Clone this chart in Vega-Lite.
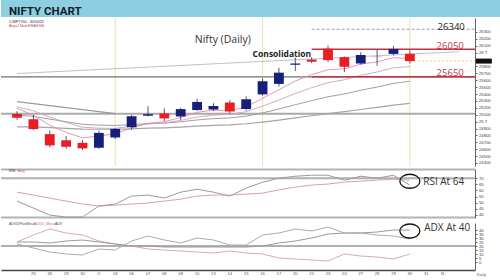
{
  "$schema": "https://vega.github.io/schema/vega-lite/v6.json",
  "padding": 0,
  "background": "white",
  "config": {"view": {"stroke": null}, "axis": {"labelFont": "Liberation Sans", "titleFont": "Liberation Sans", "grid": false, "labelOverlap": false, "labelFontSize": 4.2, "labelColor": "#3a3a3a", "tickColor": "#666", "domainColor": "#666", "tickSize": 2, "labelPadding": 1.5, "labelFlush": false, "labelBound": false}, "text": {"font": "Liberation Sans"}},
  "datasets": {
    "px": [
      {"d": "2025-09-24", "o": 25108.75, "h": 25150.5, "l": 25027.45, "c": 25056.9, "e5": 25192, "e10": 25215, "e20": 25096, "e50": 24925},
      {"d": "2025-09-25", "o": 25034.5, "h": 25092.7, "l": 24878.3, "c": 24890.85, "e5": 25092, "e10": 25156, "e20": 25076, "e50": 24924},
      {"d": "2025-09-26", "o": 24818.55, "h": 24868.6, "l": 24629.45, "c": 24654.7, "e5": 24946, "e10": 25065, "e20": 25036, "e50": 24913},
      {"d": "2025-09-29", "o": 24728.55, "h": 24791.3, "l": 24606.2, "c": 24634.9, "e5": 24842, "e10": 24987, "e20": 24998, "e50": 24902},
      {"d": "2025-09-30", "o": 24691.95, "h": 24731.8, "l": 24587.7, "c": 24611.1, "e5": 24765, "e10": 24919, "e20": 24961, "e50": 24891},
      {"d": "2025-10-01", "o": 24620.55, "h": 24867.95, "l": 24605.95, "c": 24836.3, "e5": 24789, "e10": 24904, "e20": 24949, "e50": 24889},
      {"d": "2025-10-03", "o": 24770, "h": 24904.8, "l": 24747.55, "c": 24894.25, "e5": 24824, "e10": 24902, "e20": 24944, "e50": 24889},
      {"d": "2025-10-06", "o": 24916.55, "h": 25095.95, "l": 24881.65, "c": 25077.65, "e5": 24909, "e10": 24934, "e20": 24957, "e50": 24896},
      {"d": "2025-10-07", "o": 25085.3, "h": 25220.9, "l": 25076.3, "c": 25108.3, "e5": 24975, "e10": 24966, "e20": 24971, "e50": 24904},
      {"d": "2025-10-08", "o": 25118.9, "h": 25192.5, "l": 25008.5, "c": 25046.15, "e5": 24999, "e10": 24981, "e20": 24978, "e50": 24910},
      {"d": "2025-10-09", "o": 25074.3, "h": 25199.25, "l": 25024.3, "c": 25181.8, "e5": 25060, "e10": 25018, "e20": 24997, "e50": 24921},
      {"d": "2025-10-10", "o": 25167.65, "h": 25330.75, "l": 25156.85, "c": 25285.35, "e5": 25135, "e10": 25066, "e20": 25024, "e50": 24935},
      {"d": "2025-10-13", "o": 25177.2, "h": 25267.3, "l": 25152.3, "c": 25227.35, "e5": 25166, "e10": 25095, "e20": 25043, "e50": 24946},
      {"d": "2025-10-14", "o": 25277.55, "h": 25310.35, "l": 25119.2, "c": 25145.5, "e5": 25159, "e10": 25104, "e20": 25053, "e50": 24954},
      {"d": "2025-10-15", "o": 25181.95, "h": 25365.55, "l": 25159.35, "c": 25323.55, "e5": 25214, "e10": 25144, "e20": 25079, "e50": 24969},
      {"d": "2025-10-16", "o": 25394.9, "h": 25625.4, "l": 25376.2, "c": 25585.3, "e5": 25338, "e10": 25224, "e20": 25127, "e50": 24993},
      {"d": "2025-10-17", "o": 25546.85, "h": 25781.5, "l": 25508.6, "c": 25709.85, "e5": 25462, "e10": 25312, "e20": 25182, "e50": 25021},
      {"d": "2025-10-20", "o": 25824.8, "h": 25926.2, "l": 25733.5, "c": 25843.15, "e5": 25589, "e10": 25409, "e20": 25245, "e50": 25053},
      {"d": "2025-10-21", "o": 25900, "h": 25934.35, "l": 25847.25, "c": 25868.6, "e5": 25682, "e10": 25493, "e20": 25304, "e50": 25085},
      {"d": "2025-10-23", "o": 26057.2, "h": 26104.2, "l": 25862.45, "c": 25891.4, "e5": 25752, "e10": 25565, "e20": 25360, "e50": 25117},
      {"d": "2025-10-24", "o": 25935.1, "h": 25944.15, "l": 25718.2, "c": 25795.15, "e5": 25766, "e10": 25607, "e20": 25401, "e50": 25144},
      {"d": "2025-10-27", "o": 25843.2, "h": 26005.95, "l": 25827.2, "c": 25966.05, "e5": 25833, "e10": 25672, "e20": 25455, "e50": 25176},
      {"d": "2025-10-28", "o": 25939.95, "h": 26041.7, "l": 25810.05, "c": 25936.2, "e5": 25867, "e10": 25720, "e20": 25501, "e50": 25206},
      {"d": "2025-10-29", "o": 25982, "h": 26097.85, "l": 25960.3, "c": 26053.9, "e5": 25929, "e10": 25781, "e20": 25554, "e50": 25239},
      {"d": "2025-10-30", "o": 25984.4, "h": 26032, "l": 25845, "c": 25877.85, "e5": 25912, "e10": 25799, "e20": 25585, "e50": 25264}
    ],
    "osc": [
      {"d": "2025-09-24", "rsi": 51.3, "rsia": 58.6, "dip": 22.5, "dim": 25, "adx": 25},
      {"d": "2025-09-25", "rsi": 45.6, "rsia": 56.2, "dip": 17.5, "dim": 33.75, "adx": 25},
      {"d": "2025-09-26", "rsi": 39.9, "rsia": 53.7, "dip": 12.5, "dim": 41.25, "adx": 23.75},
      {"d": "2025-09-29", "rsi": 38.3, "rsia": 51.3, "dip": 10, "dim": 36.25, "adx": 26.25},
      {"d": "2025-09-30", "rsi": 38.3, "rsia": 48.9, "dip": 8.75, "dim": 33.75, "adx": 27.5},
      {"d": "2025-10-01", "rsi": 47.2, "rsia": 47.2, "dip": 16.25, "dim": 26.25, "adx": 25},
      {"d": "2025-10-03", "rsi": 48.9, "rsia": 48.0, "dip": 15, "dim": 22.5, "adx": 22.5},
      {"d": "2025-10-06", "rsi": 55.4, "rsia": 48.9, "dip": 26.25, "dim": 20, "adx": 20},
      {"d": "2025-10-07", "rsi": 56.2, "rsia": 49.7, "dip": 32.5, "dim": 16.25, "adx": 20},
      {"d": "2025-10-08", "rsi": 53.8, "rsia": 51.3, "dip": 27.5, "dim": 15, "adx": 18.75},
      {"d": "2025-10-09", "rsi": 58.6, "rsia": 52.9, "dip": 23.75, "dim": 13.75, "adx": 18.75},
      {"d": "2025-10-10", "rsi": 61.0, "rsia": 55.4, "dip": 30, "dim": 12.5, "adx": 18.75},
      {"d": "2025-10-13", "rsi": 58.6, "rsia": 56.2, "dip": 27.5, "dim": 11.25, "adx": 18.75},
      {"d": "2025-10-14", "rsi": 55.4, "rsia": 56.2, "dip": 21.25, "dim": 13.75, "adx": 18.75},
      {"d": "2025-10-15", "rsi": 61.9, "rsia": 57.0, "dip": 21.25, "dim": 11.25, "adx": 18.75},
      {"d": "2025-10-16", "rsi": 66.7, "rsia": 57.8, "dip": 33.75, "dim": 10, "adx": 20},
      {"d": "2025-10-17", "rsi": 70, "rsia": 60.5, "dip": 36.25, "dim": 5, "adx": 23.75},
      {"d": "2025-10-20", "rsi": 71.6, "rsia": 62.7, "dip": 41.25, "dim": 3.75, "adx": 26.25},
      {"d": "2025-10-21", "rsi": 72.4, "rsia": 64.4, "dip": 38.75, "dim": 2.5, "adx": 30},
      {"d": "2025-10-23", "rsi": 72.4, "rsia": 65.2, "dip": 43.75, "dim": 1.25, "adx": 35},
      {"d": "2025-10-24", "rsi": 68.4, "rsia": 66.8, "dip": 36.25, "dim": 10, "adx": 36.25},
      {"d": "2025-10-27", "rsi": 71.6, "rsia": 67.6, "dip": 36.25, "dim": 7.5, "adx": 36.25},
      {"d": "2025-10-28", "rsi": 70, "rsia": 68.4, "dip": 33.75, "dim": 6.25, "adx": 37.5},
      {"d": "2025-10-29", "rsi": 72.4, "rsia": 69.2, "dip": 32.5, "dim": 3.75, "adx": 40},
      {"d": "2025-10-30", "rsi": 64.3, "rsia": 68.4, "dip": 28.75, "dim": 10, "adx": 40}
    ]
  },
  "spacing": 0,
  "vconcat": [
    {
      "width": 500,
      "height": 17,
      "view": {"fill": "#8dcfe0", "stroke": null},
      "data": {"values": [{"d": "2025-09-24", "t": "NIFTY CHART"}]},
      "mark": {"type": "text", "font": "Roboto", "fontSize": 11.5, "fontWeight": "bold", "color": "#15202b", "align": "left", "baseline": "middle", "dx": -9, "dy": 3},
      "encoding": {
        "x": {"field": "d", "type": "ordinal", "scale": {"type": "band", "domain": ["2025-09-24","2025-09-25","2025-09-26","2025-09-29","2025-09-30","2025-10-01","2025-10-03","2025-10-06","2025-10-07","2025-10-08","2025-10-09","2025-10-10","2025-10-13","2025-10-14","2025-10-15","2025-10-16","2025-10-17","2025-10-20","2025-10-21","2025-10-23","2025-10-24","2025-10-27","2025-10-28","2025-10-29","2025-10-30","2025-10-31","2025-11-03","2025-11-04"], "paddingInner": 0.4, "paddingOuter": 0.68}, "axis": null},
        "text": {"field": "t"}
      }
    },
    {
      "spacing": 1,
      "vconcat": [
        {
          "width": 474,
          "height": 148,
          "layer": [
            {"data": {"values": [{"d": "2025-10-03"}, {"d": "2025-10-16"}, {"d": "2025-10-30"}]}, "mark": {"type": "rule", "color": "#ece6a0", "strokeWidth": 1}, "encoding": {"x": {"field": "d", "type": "ordinal", "scale": {"type": "band", "domain": ["2025-09-24","2025-09-25","2025-09-26","2025-09-29","2025-09-30","2025-10-01","2025-10-03","2025-10-06","2025-10-07","2025-10-08","2025-10-09","2025-10-10","2025-10-13","2025-10-14","2025-10-15","2025-10-16","2025-10-17","2025-10-20","2025-10-21","2025-10-23","2025-10-24","2025-10-27","2025-10-28","2025-10-29","2025-10-30","2025-10-31","2025-11-03","2025-11-04"], "paddingInner": 0.4, "paddingOuter": 0.68}, "axis": null}}},
            {"data": {"values": [{"v": 25114.7}]}, "mark": {"type": "rule", "color": "#aaaaaa", "strokeWidth": 2}, "encoding": {"y": {"field": "v", "type": "quantitative", "scale": {"domain": [24356, 26503], "nice": false, "zero": false}, "axis": {"orient": "right", "values": [24400, 24500, 24600, 24700, 24800, 24900, 25000, 25100, 25200, 25300, 25400, 25500, 25600, 25700, 25800, 26000, 26100, 26200, 26300], "format": "d", "labelExpr": "datum.value == 26000 ? '26 T' : datum.value == 25000 ? '25 T' : datum.label", "title": null, "labelOverlap": false}}}},
            {"data": {"values": [{"v": 25650}]}, "mark": {"type": "rule", "color": "#707070", "strokeWidth": 1.2}, "encoding": {"y": {"field": "v", "type": "quantitative", "scale": {"domain": [24356, 26503], "nice": false, "zero": false}, "axis": {"orient": "right", "values": [24400, 24500, 24600, 24700, 24800, 24900, 25000, 25100, 25200, 25300, 25400, 25500, 25600, 25700, 25800, 26000, 26100, 26200, 26300], "format": "d", "labelExpr": "datum.value == 26000 ? '26 T' : datum.value == 25000 ? '25 T' : datum.label", "title": null, "labelOverlap": false}}}},
            {"data": {"values": [{"d": "2025-09-24", "v": 25697}, {"d": "2025-11-04", "v": 26014}]}, "mark": {"type": "line", "color": "#b9abc2", "strokeWidth": 0.8}, "encoding": {"x": {"field": "d", "type": "ordinal", "scale": {"type": "band", "domain": ["2025-09-24","2025-09-25","2025-09-26","2025-09-29","2025-09-30","2025-10-01","2025-10-03","2025-10-06","2025-10-07","2025-10-08","2025-10-09","2025-10-10","2025-10-13","2025-10-14","2025-10-15","2025-10-16","2025-10-17","2025-10-20","2025-10-21","2025-10-23","2025-10-24","2025-10-27","2025-10-28","2025-10-29","2025-10-30","2025-10-31","2025-11-03","2025-11-04"], "paddingInner": 0.4, "paddingOuter": 0.68}, "axis": null}, "y": {"field": "v", "type": "quantitative", "scale": {"domain": [24356, 26503], "nice": false, "zero": false}, "axis": {"orient": "right", "values": [24400, 24500, 24600, 24700, 24800, 24900, 25000, 25100, 25200, 25300, 25400, 25500, 25600, 25700, 25800, 26000, 26100, 26200, 26300], "format": "d", "labelExpr": "datum.value == 26000 ? '26 T' : datum.value == 25000 ? '25 T' : datum.label", "title": null, "labelOverlap": false}}}},
            {"data": {"values": [{"d": "2025-09-24", "v": 25290}, {"d": "2025-10-03", "v": 25115}]}, "mark": {"type": "line", "color": "#9a9a9a", "strokeWidth": 1.2}, "encoding": {"x": {"field": "d", "type": "ordinal", "scale": {"type": "band", "domain": ["2025-09-24","2025-09-25","2025-09-26","2025-09-29","2025-09-30","2025-10-01","2025-10-03","2025-10-06","2025-10-07","2025-10-08","2025-10-09","2025-10-10","2025-10-13","2025-10-14","2025-10-15","2025-10-16","2025-10-17","2025-10-20","2025-10-21","2025-10-23","2025-10-24","2025-10-27","2025-10-28","2025-10-29","2025-10-30","2025-10-31","2025-11-03","2025-11-04"], "paddingInner": 0.4, "paddingOuter": 0.68}, "axis": null}, "y": {"field": "v", "type": "quantitative", "scale": {"domain": [24356, 26503], "nice": false, "zero": false}, "axis": {"orient": "right", "values": [24400, 24500, 24600, 24700, 24800, 24900, 25000, 25100, 25200, 25300, 25400, 25500, 25600, 25700, 25800, 26000, 26100, 26200, 26300], "format": "d", "labelExpr": "datum.value == 26000 ? '26 T' : datum.value == 25000 ? '25 T' : datum.label", "title": null, "labelOverlap": false}}}},
            {"data": {"name": "px"}, "mark": {"type": "line", "color": "#a5a5a5", "strokeWidth": 1.2}, "encoding": {"x": {"field": "d", "type": "ordinal", "scale": {"type": "band", "domain": ["2025-09-24","2025-09-25","2025-09-26","2025-09-29","2025-09-30","2025-10-01","2025-10-03","2025-10-06","2025-10-07","2025-10-08","2025-10-09","2025-10-10","2025-10-13","2025-10-14","2025-10-15","2025-10-16","2025-10-17","2025-10-20","2025-10-21","2025-10-23","2025-10-24","2025-10-27","2025-10-28","2025-10-29","2025-10-30","2025-10-31","2025-11-03","2025-11-04"], "paddingInner": 0.4, "paddingOuter": 0.68}, "axis": null}, "y": {"field": "e50", "type": "quantitative", "scale": {"domain": [24356, 26503], "nice": false, "zero": false}, "axis": {"orient": "right", "values": [24400, 24500, 24600, 24700, 24800, 24900, 25000, 25100, 25200, 25300, 25400, 25500, 25600, 25700, 25800, 26000, 26100, 26200, 26300], "format": "d", "labelExpr": "datum.value == 26000 ? '26 T' : datum.value == 25000 ? '25 T' : datum.label", "title": null, "labelOverlap": false}}}},
            {"data": {"name": "px"}, "mark": {"type": "line", "color": "#a0a0a0", "strokeWidth": 1}, "encoding": {"x": {"field": "d", "type": "ordinal", "scale": {"type": "band", "domain": ["2025-09-24","2025-09-25","2025-09-26","2025-09-29","2025-09-30","2025-10-01","2025-10-03","2025-10-06","2025-10-07","2025-10-08","2025-10-09","2025-10-10","2025-10-13","2025-10-14","2025-10-15","2025-10-16","2025-10-17","2025-10-20","2025-10-21","2025-10-23","2025-10-24","2025-10-27","2025-10-28","2025-10-29","2025-10-30","2025-10-31","2025-11-03","2025-11-04"], "paddingInner": 0.4, "paddingOuter": 0.68}, "axis": null}, "y": {"field": "e20", "type": "quantitative", "scale": {"domain": [24356, 26503], "nice": false, "zero": false}, "axis": {"orient": "right", "values": [24400, 24500, 24600, 24700, 24800, 24900, 25000, 25100, 25200, 25300, 25400, 25500, 25600, 25700, 25800, 26000, 26100, 26200, 26300], "format": "d", "labelExpr": "datum.value == 26000 ? '26 T' : datum.value == 25000 ? '25 T' : datum.label", "title": null, "labelOverlap": false}}}},
            {"data": {"name": "px"}, "mark": {"type": "line", "color": "#c9a0c8", "strokeWidth": 0.9}, "encoding": {"x": {"field": "d", "type": "ordinal", "scale": {"type": "band", "domain": ["2025-09-24","2025-09-25","2025-09-26","2025-09-29","2025-09-30","2025-10-01","2025-10-03","2025-10-06","2025-10-07","2025-10-08","2025-10-09","2025-10-10","2025-10-13","2025-10-14","2025-10-15","2025-10-16","2025-10-17","2025-10-20","2025-10-21","2025-10-23","2025-10-24","2025-10-27","2025-10-28","2025-10-29","2025-10-30","2025-10-31","2025-11-03","2025-11-04"], "paddingInner": 0.4, "paddingOuter": 0.68}, "axis": null}, "y": {"field": "e10", "type": "quantitative", "scale": {"domain": [24356, 26503], "nice": false, "zero": false}, "axis": {"orient": "right", "values": [24400, 24500, 24600, 24700, 24800, 24900, 25000, 25100, 25200, 25300, 25400, 25500, 25600, 25700, 25800, 26000, 26100, 26200, 26300], "format": "d", "labelExpr": "datum.value == 26000 ? '26 T' : datum.value == 25000 ? '25 T' : datum.label", "title": null, "labelOverlap": false}}}},
            {"data": {"name": "px"}, "mark": {"type": "line", "color": "#e68aa8", "strokeWidth": 0.9}, "encoding": {"x": {"field": "d", "type": "ordinal", "scale": {"type": "band", "domain": ["2025-09-24","2025-09-25","2025-09-26","2025-09-29","2025-09-30","2025-10-01","2025-10-03","2025-10-06","2025-10-07","2025-10-08","2025-10-09","2025-10-10","2025-10-13","2025-10-14","2025-10-15","2025-10-16","2025-10-17","2025-10-20","2025-10-21","2025-10-23","2025-10-24","2025-10-27","2025-10-28","2025-10-29","2025-10-30","2025-10-31","2025-11-03","2025-11-04"], "paddingInner": 0.4, "paddingOuter": 0.68}, "axis": null}, "y": {"field": "e5", "type": "quantitative", "scale": {"domain": [24356, 26503], "nice": false, "zero": false}, "axis": {"orient": "right", "values": [24400, 24500, 24600, 24700, 24800, 24900, 25000, 25100, 25200, 25300, 25400, 25500, 25600, 25700, 25800, 26000, 26100, 26200, 26300], "format": "d", "labelExpr": "datum.value == 26000 ? '26 T' : datum.value == 25000 ? '25 T' : datum.label", "title": null, "labelOverlap": false}}}},
            {"data": {"values": [{"d": "2025-10-21", "v": 26050}, {"d": "2025-10-21", "v": 25650}]}, "mark": {"type": "rule", "color": "#c4323f", "strokeWidth": 1.6}, "encoding": {"x": {"field": "d", "type": "ordinal", "scale": {"type": "band", "domain": ["2025-09-24","2025-09-25","2025-09-26","2025-09-29","2025-09-30","2025-10-01","2025-10-03","2025-10-06","2025-10-07","2025-10-08","2025-10-09","2025-10-10","2025-10-13","2025-10-14","2025-10-15","2025-10-16","2025-10-17","2025-10-20","2025-10-21","2025-10-23","2025-10-24","2025-10-27","2025-10-28","2025-10-29","2025-10-30","2025-10-31","2025-11-03","2025-11-04"], "paddingInner": 0.4, "paddingOuter": 0.68}, "axis": null}, "x2": {"value": "width"}, "y": {"field": "v", "type": "quantitative", "scale": {"domain": [24356, 26503], "nice": false, "zero": false}, "axis": {"orient": "right", "values": [24400, 24500, 24600, 24700, 24800, 24900, 25000, 25100, 25200, 25300, 25400, 25500, 25600, 25700, 25800, 26000, 26100, 26200, 26300], "format": "d", "labelExpr": "datum.value == 26000 ? '26 T' : datum.value == 25000 ? '25 T' : datum.label", "title": null, "labelOverlap": false}}}},
            {"data": {"values": [{"d": "2025-10-21", "v": 26340}]}, "mark": {"type": "rule", "color": "#9d9d9d", "strokeWidth": 1, "strokeDash": [3, 2]}, "encoding": {"x": {"field": "d", "type": "ordinal", "scale": {"type": "band", "domain": ["2025-09-24","2025-09-25","2025-09-26","2025-09-29","2025-09-30","2025-10-01","2025-10-03","2025-10-06","2025-10-07","2025-10-08","2025-10-09","2025-10-10","2025-10-13","2025-10-14","2025-10-15","2025-10-16","2025-10-17","2025-10-20","2025-10-21","2025-10-23","2025-10-24","2025-10-27","2025-10-28","2025-10-29","2025-10-30","2025-10-31","2025-11-03","2025-11-04"], "paddingInner": 0.4, "paddingOuter": 0.68}, "axis": null}, "x2": {"value": "width"}, "y": {"field": "v", "type": "quantitative", "scale": {"domain": [24356, 26503], "nice": false, "zero": false}, "axis": {"orient": "right", "values": [24400, 24500, 24600, 24700, 24800, 24900, 25000, 25100, 25200, 25300, 25400, 25500, 25600, 25700, 25800, 26000, 26100, 26200, 26300], "format": "d", "labelExpr": "datum.value == 26000 ? '26 T' : datum.value == 25000 ? '25 T' : datum.label", "title": null, "labelOverlap": false}}}},
            {"data": {"values": [{"d": "2025-10-30", "v": 25877.85}]}, "mark": {"type": "rule", "color": "#e6d46e", "strokeWidth": 1, "strokeDash": [2, 2]}, "encoding": {"x": {"field": "d", "type": "ordinal", "scale": {"type": "band", "domain": ["2025-09-24","2025-09-25","2025-09-26","2025-09-29","2025-09-30","2025-10-01","2025-10-03","2025-10-06","2025-10-07","2025-10-08","2025-10-09","2025-10-10","2025-10-13","2025-10-14","2025-10-15","2025-10-16","2025-10-17","2025-10-20","2025-10-21","2025-10-23","2025-10-24","2025-10-27","2025-10-28","2025-10-29","2025-10-30","2025-10-31","2025-11-03","2025-11-04"], "paddingInner": 0.4, "paddingOuter": 0.68}, "axis": null}, "x2": {"value": "width"}, "y": {"field": "v", "type": "quantitative", "scale": {"domain": [24356, 26503], "nice": false, "zero": false}, "axis": {"orient": "right", "values": [24400, 24500, 24600, 24700, 24800, 24900, 25000, 25100, 25200, 25300, 25400, 25500, 25600, 25700, 25800, 26000, 26100, 26200, 26300], "format": "d", "labelExpr": "datum.value == 26000 ? '26 T' : datum.value == 25000 ? '25 T' : datum.label", "title": null, "labelOverlap": false}}}},
            {"data": {"name": "px"}, "mark": {"type": "rule", "color": "#2a2a50", "strokeWidth": 0.8}, "encoding": {"x": {"field": "d", "type": "ordinal", "scale": {"type": "band", "domain": ["2025-09-24","2025-09-25","2025-09-26","2025-09-29","2025-09-30","2025-10-01","2025-10-03","2025-10-06","2025-10-07","2025-10-08","2025-10-09","2025-10-10","2025-10-13","2025-10-14","2025-10-15","2025-10-16","2025-10-17","2025-10-20","2025-10-21","2025-10-23","2025-10-24","2025-10-27","2025-10-28","2025-10-29","2025-10-30","2025-10-31","2025-11-03","2025-11-04"], "paddingInner": 0.4, "paddingOuter": 0.68}, "axis": null}, "y": {"field": "l", "type": "quantitative", "scale": {"domain": [24356, 26503], "nice": false, "zero": false}, "axis": {"orient": "right", "values": [24400, 24500, 24600, 24700, 24800, 24900, 25000, 25100, 25200, 25300, 25400, 25500, 25600, 25700, 25800, 26000, 26100, 26200, 26300], "format": "d", "labelExpr": "datum.value == 26000 ? '26 T' : datum.value == 25000 ? '25 T' : datum.label", "title": null, "labelOverlap": false}}, "y2": {"field": "h"}}},
            {"data": {"name": "px"}, "mark": {"type": "bar"}, "encoding": {"x": {"field": "d", "type": "ordinal", "scale": {"type": "band", "domain": ["2025-09-24","2025-09-25","2025-09-26","2025-09-29","2025-09-30","2025-10-01","2025-10-03","2025-10-06","2025-10-07","2025-10-08","2025-10-09","2025-10-10","2025-10-13","2025-10-14","2025-10-15","2025-10-16","2025-10-17","2025-10-20","2025-10-21","2025-10-23","2025-10-24","2025-10-27","2025-10-28","2025-10-29","2025-10-30","2025-10-31","2025-11-03","2025-11-04"], "paddingInner": 0.4, "paddingOuter": 0.68}, "axis": null}, "y": {"field": "o", "type": "quantitative", "scale": {"domain": [24356, 26503], "nice": false, "zero": false}, "axis": {"orient": "right", "values": [24400, 24500, 24600, 24700, 24800, 24900, 25000, 25100, 25200, 25300, 25400, 25500, 25600, 25700, 25800, 26000, 26100, 26200, 26300], "format": "d", "labelExpr": "datum.value == 26000 ? '26 T' : datum.value == 25000 ? '25 T' : datum.label", "title": null, "labelOverlap": false}}, "y2": {"field": "c"}, "color": {"condition": {"test": "datum.c >= datum.o", "value": "#16207a"}, "value": "#ea1c24"}}},
            {"data": {"values": [{"d": "2025-10-30", "v": 25877.85}]}, "mark": {"type": "point", "shape": "M 6.6 -0.25 H 8.2 V 0.25 H 6.6 Z", "size": 400, "filled": true, "color": "#111111", "opacity": 1, "strokeWidth": 0}, "encoding": {"x": {"field": "d", "type": "ordinal", "scale": {"type": "band", "domain": ["2025-09-24","2025-09-25","2025-09-26","2025-09-29","2025-09-30","2025-10-01","2025-10-03","2025-10-06","2025-10-07","2025-10-08","2025-10-09","2025-10-10","2025-10-13","2025-10-14","2025-10-15","2025-10-16","2025-10-17","2025-10-20","2025-10-21","2025-10-23","2025-10-24","2025-10-27","2025-10-28","2025-10-29","2025-10-30","2025-10-31","2025-11-03","2025-11-04"], "paddingInner": 0.4, "paddingOuter": 0.68}, "axis": null}, "y": {"field": "v", "type": "quantitative", "scale": {"domain": [24356, 26503], "nice": false, "zero": false}, "axis": {"orient": "right", "values": [24400, 24500, 24600, 24700, 24800, 24900, 25000, 25100, 25200, 25300, 25400, 25500, 25600, 25700, 25800, 26000, 26100, 26200, 26300], "format": "d", "labelExpr": "datum.value == 26000 ? '26 T' : datum.value == 25000 ? '25 T' : datum.label", "title": null, "labelOverlap": false}}}},
            {"data": {"values": [{"d": "2025-10-14", "v": 26184, "t": "Nifty (Daily)"}]}, "mark": {"type": "text", "font": "Open Sans", "fontSize": 10.5, "color": "#333333", "dx": -7, "baseline": "middle"}, "encoding": {"x": {"field": "d", "type": "ordinal", "scale": {"type": "band", "domain": ["2025-09-24","2025-09-25","2025-09-26","2025-09-29","2025-09-30","2025-10-01","2025-10-03","2025-10-06","2025-10-07","2025-10-08","2025-10-09","2025-10-10","2025-10-13","2025-10-14","2025-10-15","2025-10-16","2025-10-17","2025-10-20","2025-10-21","2025-10-23","2025-10-24","2025-10-27","2025-10-28","2025-10-29","2025-10-30","2025-10-31","2025-11-03","2025-11-04"], "paddingInner": 0.4, "paddingOuter": 0.68}, "axis": null}, "y": {"field": "v", "type": "quantitative", "scale": {"domain": [24356, 26503], "nice": false, "zero": false}, "axis": {"orient": "right", "values": [24400, 24500, 24600, 24700, 24800, 24900, 25000, 25100, 25200, 25300, 25400, 25500, 25600, 25700, 25800, 26000, 26100, 26200, 26300], "format": "d", "labelExpr": "datum.value == 26000 ? '26 T' : datum.value == 25000 ? '25 T' : datum.label", "title": null, "labelOverlap": false}}, "text": {"field": "t"}}},
            {"data": {"values": [{"d": "2025-10-17", "v": 25981, "t": "Consolidation"}]}, "mark": {"type": "text", "font": "Open Sans", "fontSize": 8.5, "fontWeight": "bold", "color": "#222222", "dx": 3, "baseline": "middle"}, "encoding": {"x": {"field": "d", "type": "ordinal", "scale": {"type": "band", "domain": ["2025-09-24","2025-09-25","2025-09-26","2025-09-29","2025-09-30","2025-10-01","2025-10-03","2025-10-06","2025-10-07","2025-10-08","2025-10-09","2025-10-10","2025-10-13","2025-10-14","2025-10-15","2025-10-16","2025-10-17","2025-10-20","2025-10-21","2025-10-23","2025-10-24","2025-10-27","2025-10-28","2025-10-29","2025-10-30","2025-10-31","2025-11-03","2025-11-04"], "paddingInner": 0.4, "paddingOuter": 0.68}, "axis": null}, "y": {"field": "v", "type": "quantitative", "scale": {"domain": [24356, 26503], "nice": false, "zero": false}, "axis": {"orient": "right", "values": [24400, 24500, 24600, 24700, 24800, 24900, 25000, 25100, 25200, 25300, 25400, 25500, 25600, 25700, 25800, 26000, 26100, 26200, 26300], "format": "d", "labelExpr": "datum.value == 26000 ? '26 T' : datum.value == 25000 ? '25 T' : datum.label", "title": null, "labelOverlap": false}}, "text": {"field": "t"}}},
            {"data": {"values": [{"d": "2025-11-03", "v": 26372, "t": "26340"}]}, "mark": {"type": "text", "font": "Open Sans", "fontSize": 9.5, "color": "#222222", "dx": -5, "align": "left", "baseline": "middle"}, "encoding": {"x": {"field": "d", "type": "ordinal", "scale": {"type": "band", "domain": ["2025-09-24","2025-09-25","2025-09-26","2025-09-29","2025-09-30","2025-10-01","2025-10-03","2025-10-06","2025-10-07","2025-10-08","2025-10-09","2025-10-10","2025-10-13","2025-10-14","2025-10-15","2025-10-16","2025-10-17","2025-10-20","2025-10-21","2025-10-23","2025-10-24","2025-10-27","2025-10-28","2025-10-29","2025-10-30","2025-10-31","2025-11-03","2025-11-04"], "paddingInner": 0.4, "paddingOuter": 0.68}, "axis": null}, "y": {"field": "v", "type": "quantitative", "scale": {"domain": [24356, 26503], "nice": false, "zero": false}, "axis": {"orient": "right", "values": [24400, 24500, 24600, 24700, 24800, 24900, 25000, 25100, 25200, 25300, 25400, 25500, 25600, 25700, 25800, 26000, 26100, 26200, 26300], "format": "d", "labelExpr": "datum.value == 26000 ? '26 T' : datum.value == 25000 ? '25 T' : datum.label", "title": null, "labelOverlap": false}}, "text": {"field": "t"}}},
            {"data": {"values": [{"d": "2025-11-03", "v": 26097, "t": "26050"}, {"d": "2025-11-03", "v": 25705, "t": "25650"}]}, "mark": {"type": "text", "font": "Open Sans", "fontSize": 9.5, "color": "#c4323f", "dx": -6, "align": "left", "baseline": "middle"}, "encoding": {"x": {"field": "d", "type": "ordinal", "scale": {"type": "band", "domain": ["2025-09-24","2025-09-25","2025-09-26","2025-09-29","2025-09-30","2025-10-01","2025-10-03","2025-10-06","2025-10-07","2025-10-08","2025-10-09","2025-10-10","2025-10-13","2025-10-14","2025-10-15","2025-10-16","2025-10-17","2025-10-20","2025-10-21","2025-10-23","2025-10-24","2025-10-27","2025-10-28","2025-10-29","2025-10-30","2025-10-31","2025-11-03","2025-11-04"], "paddingInner": 0.4, "paddingOuter": 0.68}, "axis": null}, "y": {"field": "v", "type": "quantitative", "scale": {"domain": [24356, 26503], "nice": false, "zero": false}, "axis": {"orient": "right", "values": [24400, 24500, 24600, 24700, 24800, 24900, 25000, 25100, 25200, 25300, 25400, 25500, 25600, 25700, 25800, 26000, 26100, 26200, 26300], "format": "d", "labelExpr": "datum.value == 26000 ? '26 T' : datum.value == 25000 ? '25 T' : datum.label", "title": null, "labelOverlap": false}}, "text": {"field": "t"}}},
            {"data": {"values": [{"d": "2025-09-24", "v": 26452, "t": "1-NIFTY50 - 30/10/25"}]}, "mark": {"type": "text", "fontSize": 3.6, "color": "#222222", "dx": -8, "align": "left", "baseline": "middle"}, "encoding": {"x": {"field": "d", "type": "ordinal", "scale": {"type": "band", "domain": ["2025-09-24","2025-09-25","2025-09-26","2025-09-29","2025-09-30","2025-10-01","2025-10-03","2025-10-06","2025-10-07","2025-10-08","2025-10-09","2025-10-10","2025-10-13","2025-10-14","2025-10-15","2025-10-16","2025-10-17","2025-10-20","2025-10-21","2025-10-23","2025-10-24","2025-10-27","2025-10-28","2025-10-29","2025-10-30","2025-10-31","2025-11-03","2025-11-04"], "paddingInner": 0.4, "paddingOuter": 0.68}, "axis": null}, "y": {"field": "v", "type": "quantitative", "scale": {"domain": [24356, 26503], "nice": false, "zero": false}, "axis": {"orient": "right", "values": [24400, 24500, 24600, 24700, 24800, 24900, 25000, 25100, 25200, 25300, 25400, 25500, 25600, 25700, 25800, 26000, 26100, 26200, 26300], "format": "d", "labelExpr": "datum.value == 26000 ? '26 T' : datum.value == 25000 ? '25 T' : datum.label", "title": null, "labelOverlap": false}}, "text": {"field": "t"}}},
            {"data": {"values": [{"d": "2025-09-24", "v": 26380, "t": "Avgs2 Mod,"}]}, "mark": {"type": "text", "fontSize": 3.6, "color": "#c8405a", "dx": -8, "align": "left", "baseline": "middle"}, "encoding": {"x": {"field": "d", "type": "ordinal", "scale": {"type": "band", "domain": ["2025-09-24","2025-09-25","2025-09-26","2025-09-29","2025-09-30","2025-10-01","2025-10-03","2025-10-06","2025-10-07","2025-10-08","2025-10-09","2025-10-10","2025-10-13","2025-10-14","2025-10-15","2025-10-16","2025-10-17","2025-10-20","2025-10-21","2025-10-23","2025-10-24","2025-10-27","2025-10-28","2025-10-29","2025-10-30","2025-10-31","2025-11-03","2025-11-04"], "paddingInner": 0.4, "paddingOuter": 0.68}, "axis": null}, "y": {"field": "v", "type": "quantitative", "scale": {"domain": [24356, 26503], "nice": false, "zero": false}, "axis": {"orient": "right", "values": [24400, 24500, 24600, 24700, 24800, 24900, 25000, 25100, 25200, 25300, 25400, 25500, 25600, 25700, 25800, 26000, 26100, 26200, 26300], "format": "d", "labelExpr": "datum.value == 26000 ? '26 T' : datum.value == 25000 ? '25 T' : datum.label", "title": null, "labelOverlap": false}}, "text": {"field": "t"}}},
            {"data": {"values": [{"d": "2025-09-24", "v": 26380, "t": "EMA"}]}, "mark": {"type": "text", "fontSize": 3.6, "color": "#8e4fa0", "dx": 11, "align": "left", "baseline": "middle"}, "encoding": {"x": {"field": "d", "type": "ordinal", "scale": {"type": "band", "domain": ["2025-09-24","2025-09-25","2025-09-26","2025-09-29","2025-09-30","2025-10-01","2025-10-03","2025-10-06","2025-10-07","2025-10-08","2025-10-09","2025-10-10","2025-10-13","2025-10-14","2025-10-15","2025-10-16","2025-10-17","2025-10-20","2025-10-21","2025-10-23","2025-10-24","2025-10-27","2025-10-28","2025-10-29","2025-10-30","2025-10-31","2025-11-03","2025-11-04"], "paddingInner": 0.4, "paddingOuter": 0.68}, "axis": null}, "y": {"field": "v", "type": "quantitative", "scale": {"domain": [24356, 26503], "nice": false, "zero": false}, "axis": {"orient": "right", "values": [24400, 24500, 24600, 24700, 24800, 24900, 25000, 25100, 25200, 25300, 25400, 25500, 25600, 25700, 25800, 26000, 26100, 26200, 26300], "format": "d", "labelExpr": "datum.value == 26000 ? '26 T' : datum.value == 25000 ? '25 T' : datum.label", "title": null, "labelOverlap": false}}, "text": {"field": "t"}}},
            {"data": {"values": [{"d": "2025-09-24", "v": 26380, "t": "EMA"}]}, "mark": {"type": "text", "fontSize": 3.6, "color": "#d0508a", "dx": 19, "align": "left", "baseline": "middle"}, "encoding": {"x": {"field": "d", "type": "ordinal", "scale": {"type": "band", "domain": ["2025-09-24","2025-09-25","2025-09-26","2025-09-29","2025-09-30","2025-10-01","2025-10-03","2025-10-06","2025-10-07","2025-10-08","2025-10-09","2025-10-10","2025-10-13","2025-10-14","2025-10-15","2025-10-16","2025-10-17","2025-10-20","2025-10-21","2025-10-23","2025-10-24","2025-10-27","2025-10-28","2025-10-29","2025-10-30","2025-10-31","2025-11-03","2025-11-04"], "paddingInner": 0.4, "paddingOuter": 0.68}, "axis": null}, "y": {"field": "v", "type": "quantitative", "scale": {"domain": [24356, 26503], "nice": false, "zero": false}, "axis": {"orient": "right", "values": [24400, 24500, 24600, 24700, 24800, 24900, 25000, 25100, 25200, 25300, 25400, 25500, 25600, 25700, 25800, 26000, 26100, 26200, 26300], "format": "d", "labelExpr": "datum.value == 26000 ? '26 T' : datum.value == 25000 ? '25 T' : datum.label", "title": null, "labelOverlap": false}}, "text": {"field": "t"}}}
          ]
        },
        {
          "width": 474,
          "height": 49,
          "layer": [
            {"data": {"values": [{"v": 77.0}, {"v": 38.0}]}, "mark": {"type": "rule", "color": "#b3b3b3", "strokeWidth": 2}, "encoding": {"y": {"field": "v", "type": "quantitative", "scale": {"domain": [37.5, 77.5], "nice": false, "zero": false}, "axis": {"orient": "right", "values": [40, 45, 50, 55, 60, 65, 70], "title": null, "labelOverlap": false}}}},
            {"data": {"values": [{"v": 70}]}, "mark": {"type": "rule", "color": "#b0b0b0", "strokeWidth": 2}, "encoding": {"y": {"field": "v", "type": "quantitative", "scale": {"domain": [37.5, 77.5], "nice": false, "zero": false}, "axis": {"orient": "right", "values": [40, 45, 50, 55, 60, 65, 70], "title": null, "labelOverlap": false}}}},
            {"data": {"name": "osc"}, "mark": {"type": "line", "color": "#d9a0b0", "strokeWidth": 1}, "encoding": {"x": {"field": "d", "type": "ordinal", "scale": {"type": "band", "domain": ["2025-09-24","2025-09-25","2025-09-26","2025-09-29","2025-09-30","2025-10-01","2025-10-03","2025-10-06","2025-10-07","2025-10-08","2025-10-09","2025-10-10","2025-10-13","2025-10-14","2025-10-15","2025-10-16","2025-10-17","2025-10-20","2025-10-21","2025-10-23","2025-10-24","2025-10-27","2025-10-28","2025-10-29","2025-10-30","2025-10-31","2025-11-03","2025-11-04"], "paddingInner": 0.4, "paddingOuter": 0.68}, "axis": null}, "y": {"field": "rsia", "type": "quantitative", "scale": {"domain": [37.5, 77.5], "nice": false, "zero": false}, "axis": {"orient": "right", "values": [40, 45, 50, 55, 60, 65, 70], "title": null, "labelOverlap": false}}}},
            {"data": {"name": "osc"}, "mark": {"type": "line", "color": "#9b9b9b", "strokeWidth": 1}, "encoding": {"x": {"field": "d", "type": "ordinal", "scale": {"type": "band", "domain": ["2025-09-24","2025-09-25","2025-09-26","2025-09-29","2025-09-30","2025-10-01","2025-10-03","2025-10-06","2025-10-07","2025-10-08","2025-10-09","2025-10-10","2025-10-13","2025-10-14","2025-10-15","2025-10-16","2025-10-17","2025-10-20","2025-10-21","2025-10-23","2025-10-24","2025-10-27","2025-10-28","2025-10-29","2025-10-30","2025-10-31","2025-11-03","2025-11-04"], "paddingInner": 0.4, "paddingOuter": 0.68}, "axis": null}, "y": {"field": "rsi", "type": "quantitative", "scale": {"domain": [37.5, 77.5], "nice": false, "zero": false}, "axis": {"orient": "right", "values": [40, 45, 50, 55, 60, 65, 70], "title": null, "labelOverlap": false}}}},
            {"data": {"values": [{"d": "2025-09-24", "v": 75.6, "t": "RSI"}]}, "mark": {"type": "text", "fontSize": 3.8, "color": "#333333", "dx": -8, "align": "left", "baseline": "middle"}, "encoding": {"x": {"field": "d", "type": "ordinal", "scale": {"type": "band", "domain": ["2025-09-24","2025-09-25","2025-09-26","2025-09-29","2025-09-30","2025-10-01","2025-10-03","2025-10-06","2025-10-07","2025-10-08","2025-10-09","2025-10-10","2025-10-13","2025-10-14","2025-10-15","2025-10-16","2025-10-17","2025-10-20","2025-10-21","2025-10-23","2025-10-24","2025-10-27","2025-10-28","2025-10-29","2025-10-30","2025-10-31","2025-11-03","2025-11-04"], "paddingInner": 0.4, "paddingOuter": 0.68}, "axis": null}, "y": {"field": "v", "type": "quantitative", "scale": {"domain": [37.5, 77.5], "nice": false, "zero": false}, "axis": {"orient": "right", "values": [40, 45, 50, 55, 60, 65, 70], "title": null, "labelOverlap": false}}, "text": {"field": "t"}}},
            {"data": {"values": [{"d": "2025-09-24", "v": 75.6, "t": "Avg"}]}, "mark": {"type": "text", "fontSize": 3.8, "color": "#d05070", "dx": 1, "align": "left", "baseline": "middle"}, "encoding": {"x": {"field": "d", "type": "ordinal", "scale": {"type": "band", "domain": ["2025-09-24","2025-09-25","2025-09-26","2025-09-29","2025-09-30","2025-10-01","2025-10-03","2025-10-06","2025-10-07","2025-10-08","2025-10-09","2025-10-10","2025-10-13","2025-10-14","2025-10-15","2025-10-16","2025-10-17","2025-10-20","2025-10-21","2025-10-23","2025-10-24","2025-10-27","2025-10-28","2025-10-29","2025-10-30","2025-10-31","2025-11-03","2025-11-04"], "paddingInner": 0.4, "paddingOuter": 0.68}, "axis": null}, "y": {"field": "v", "type": "quantitative", "scale": {"domain": [37.5, 77.5], "nice": false, "zero": false}, "axis": {"orient": "right", "values": [40, 45, 50, 55, 60, 65, 70], "title": null, "labelOverlap": false}}, "text": {"field": "t"}}},
            {"data": {"values": [{"d": "2025-10-31", "v": 66.7, "t": "RSI At 64"}]}, "mark": {"type": "text", "font": "Open Sans", "fontSize": 10, "color": "#333333", "dx": -3, "align": "left", "baseline": "middle"}, "encoding": {"x": {"field": "d", "type": "ordinal", "scale": {"type": "band", "domain": ["2025-09-24","2025-09-25","2025-09-26","2025-09-29","2025-09-30","2025-10-01","2025-10-03","2025-10-06","2025-10-07","2025-10-08","2025-10-09","2025-10-10","2025-10-13","2025-10-14","2025-10-15","2025-10-16","2025-10-17","2025-10-20","2025-10-21","2025-10-23","2025-10-24","2025-10-27","2025-10-28","2025-10-29","2025-10-30","2025-10-31","2025-11-03","2025-11-04"], "paddingInner": 0.4, "paddingOuter": 0.68}, "axis": null}, "y": {"field": "v", "type": "quantitative", "scale": {"domain": [37.5, 77.5], "nice": false, "zero": false}, "axis": {"orient": "right", "values": [40, 45, 50, 55, 60, 65, 70], "title": null, "labelOverlap": false}}, "text": {"field": "t"}}},
            {"data": {"values": [{"d": "2025-10-30", "v": 67.5}]}, "mark": {"type": "point", "shape": "M -1 0 A 1 0.7 0 1 1 1 0 A 1 0.7 0 1 1 -1 0 Z", "size": 400, "filled": false, "color": "#111111", "strokeWidth": 1.3, "opacity": 1}, "encoding": {"x": {"field": "d", "type": "ordinal", "scale": {"type": "band", "domain": ["2025-09-24","2025-09-25","2025-09-26","2025-09-29","2025-09-30","2025-10-01","2025-10-03","2025-10-06","2025-10-07","2025-10-08","2025-10-09","2025-10-10","2025-10-13","2025-10-14","2025-10-15","2025-10-16","2025-10-17","2025-10-20","2025-10-21","2025-10-23","2025-10-24","2025-10-27","2025-10-28","2025-10-29","2025-10-30","2025-10-31","2025-11-03","2025-11-04"], "paddingInner": 0.4, "paddingOuter": 0.68}, "axis": null}, "y": {"field": "v", "type": "quantitative", "scale": {"domain": [37.5, 77.5], "nice": false, "zero": false}, "axis": {"orient": "right", "values": [40, 45, 50, 55, 60, 65, 70], "title": null, "labelOverlap": false}}}}
          ]
        },
        {
          "width": 474,
          "height": 47,
          "layer": [
            {"data": {"values": [{"v": 20}]}, "mark": {"type": "rule", "color": "#b0b0b0", "strokeWidth": 2}, "encoding": {"y": {"field": "v", "type": "quantitative", "scale": {"domain": [-10, 48.75], "nice": false, "zero": false}, "axis": {"orient": "right", "values": [0, 5, 10, 15, 20, 25, 30, 35, 40], "title": null, "labelOverlap": false}}}},
            {"data": {"name": "osc"}, "mark": {"type": "line", "color": "#dba8b3", "strokeWidth": 1}, "encoding": {"x": {"field": "d", "type": "ordinal", "scale": {"type": "band", "domain": ["2025-09-24","2025-09-25","2025-09-26","2025-09-29","2025-09-30","2025-10-01","2025-10-03","2025-10-06","2025-10-07","2025-10-08","2025-10-09","2025-10-10","2025-10-13","2025-10-14","2025-10-15","2025-10-16","2025-10-17","2025-10-20","2025-10-21","2025-10-23","2025-10-24","2025-10-27","2025-10-28","2025-10-29","2025-10-30","2025-10-31","2025-11-03","2025-11-04"], "paddingInner": 0.4, "paddingOuter": 0.68}, "axis": {"orient": "bottom", "labelExpr": "datum.value == '2025-09-24' || datum.value == '2025-11-04' ? '' : datum.value == '2025-10-01' ? 'O' : datum.value == '2025-11-03' ? 'N' : slice(datum.value, 8)", "labelColor": "#555", "labelAngle": 0, "ticks": false, "domainColor": "#444", "domainWidth": 1.5, "labelPadding": 1.5, "title": "Daily", "titleFontSize": 4.2, "titleFontWeight": "normal", "titleColor": "#555", "titleX": 480, "titleY": 2, "titleBaseline": "top", "titleAlign": "center"}}, "y": {"field": "dim", "type": "quantitative", "scale": {"domain": [-10, 48.75], "nice": false, "zero": false}, "axis": {"orient": "right", "values": [0, 5, 10, 15, 20, 25, 30, 35, 40], "title": null, "labelOverlap": false}}}},
            {"data": {"name": "osc"}, "mark": {"type": "line", "color": "#ababab", "strokeWidth": 1}, "encoding": {"x": {"field": "d", "type": "ordinal", "scale": {"type": "band", "domain": ["2025-09-24","2025-09-25","2025-09-26","2025-09-29","2025-09-30","2025-10-01","2025-10-03","2025-10-06","2025-10-07","2025-10-08","2025-10-09","2025-10-10","2025-10-13","2025-10-14","2025-10-15","2025-10-16","2025-10-17","2025-10-20","2025-10-21","2025-10-23","2025-10-24","2025-10-27","2025-10-28","2025-10-29","2025-10-30","2025-10-31","2025-11-03","2025-11-04"], "paddingInner": 0.4, "paddingOuter": 0.68}, "axis": {"orient": "bottom", "labelExpr": "datum.value == '2025-09-24' || datum.value == '2025-11-04' ? '' : datum.value == '2025-10-01' ? 'O' : datum.value == '2025-11-03' ? 'N' : slice(datum.value, 8)", "labelColor": "#555", "labelAngle": 0, "ticks": false, "domainColor": "#444", "domainWidth": 1.5, "labelPadding": 1.5, "title": "Daily", "titleFontSize": 4.2, "titleFontWeight": "normal", "titleColor": "#555", "titleX": 480, "titleY": 2, "titleBaseline": "top", "titleAlign": "center"}}, "y": {"field": "dip", "type": "quantitative", "scale": {"domain": [-10, 48.75], "nice": false, "zero": false}, "axis": {"orient": "right", "values": [0, 5, 10, 15, 20, 25, 30, 35, 40], "title": null, "labelOverlap": false}}}},
            {"data": {"name": "osc"}, "mark": {"type": "line", "color": "#9a9a9a", "strokeWidth": 1}, "encoding": {"x": {"field": "d", "type": "ordinal", "scale": {"type": "band", "domain": ["2025-09-24","2025-09-25","2025-09-26","2025-09-29","2025-09-30","2025-10-01","2025-10-03","2025-10-06","2025-10-07","2025-10-08","2025-10-09","2025-10-10","2025-10-13","2025-10-14","2025-10-15","2025-10-16","2025-10-17","2025-10-20","2025-10-21","2025-10-23","2025-10-24","2025-10-27","2025-10-28","2025-10-29","2025-10-30","2025-10-31","2025-11-03","2025-11-04"], "paddingInner": 0.4, "paddingOuter": 0.68}, "axis": {"orient": "bottom", "labelExpr": "datum.value == '2025-09-24' || datum.value == '2025-11-04' ? '' : datum.value == '2025-10-01' ? 'O' : datum.value == '2025-11-03' ? 'N' : slice(datum.value, 8)", "labelColor": "#555", "labelAngle": 0, "ticks": false, "domainColor": "#444", "domainWidth": 1.5, "labelPadding": 1.5, "title": "Daily", "titleFontSize": 4.2, "titleFontWeight": "normal", "titleColor": "#555", "titleX": 480, "titleY": 2, "titleBaseline": "top", "titleAlign": "center"}}, "y": {"field": "adx", "type": "quantitative", "scale": {"domain": [-10, 48.75], "nice": false, "zero": false}, "axis": {"orient": "right", "values": [0, 5, 10, 15, 20, 25, 30, 35, 40], "title": null, "labelOverlap": false}}}},
            {"data": {"values": [{"d": "2025-09-24", "v": 46.9, "t": "ADXDIPlusMinus"}]}, "mark": {"type": "text", "fontSize": 3.4, "color": "#444444", "dx": -8, "align": "left", "baseline": "middle"}, "encoding": {"x": {"field": "d", "type": "ordinal", "scale": {"type": "band", "domain": ["2025-09-24","2025-09-25","2025-09-26","2025-09-29","2025-09-30","2025-10-01","2025-10-03","2025-10-06","2025-10-07","2025-10-08","2025-10-09","2025-10-10","2025-10-13","2025-10-14","2025-10-15","2025-10-16","2025-10-17","2025-10-20","2025-10-21","2025-10-23","2025-10-24","2025-10-27","2025-10-28","2025-10-29","2025-10-30","2025-10-31","2025-11-03","2025-11-04"], "paddingInner": 0.4, "paddingOuter": 0.68}, "axis": {"orient": "bottom", "labelExpr": "datum.value == '2025-09-24' || datum.value == '2025-11-04' ? '' : datum.value == '2025-10-01' ? 'O' : datum.value == '2025-11-03' ? 'N' : slice(datum.value, 8)", "labelColor": "#555", "labelAngle": 0, "ticks": false, "domainColor": "#444", "domainWidth": 1.5, "labelPadding": 1.5, "title": "Daily", "titleFontSize": 4.2, "titleFontWeight": "normal", "titleColor": "#555", "titleX": 480, "titleY": 2, "titleBaseline": "top", "titleAlign": "center"}}, "y": {"field": "v", "type": "quantitative", "scale": {"domain": [-10, 48.75], "nice": false, "zero": false}, "axis": {"orient": "right", "values": [0, 5, 10, 15, 20, 25, 30, 35, 40], "title": null, "labelOverlap": false}}, "text": {"field": "t"}}},
            {"data": {"values": [{"d": "2025-09-24", "v": 46.9, "t": "ADXDI_Minus"}]}, "mark": {"type": "text", "fontSize": 3.4, "color": "#d06070", "dx": 17, "align": "left", "baseline": "middle"}, "encoding": {"x": {"field": "d", "type": "ordinal", "scale": {"type": "band", "domain": ["2025-09-24","2025-09-25","2025-09-26","2025-09-29","2025-09-30","2025-10-01","2025-10-03","2025-10-06","2025-10-07","2025-10-08","2025-10-09","2025-10-10","2025-10-13","2025-10-14","2025-10-15","2025-10-16","2025-10-17","2025-10-20","2025-10-21","2025-10-23","2025-10-24","2025-10-27","2025-10-28","2025-10-29","2025-10-30","2025-10-31","2025-11-03","2025-11-04"], "paddingInner": 0.4, "paddingOuter": 0.68}, "axis": {"orient": "bottom", "labelExpr": "datum.value == '2025-09-24' || datum.value == '2025-11-04' ? '' : datum.value == '2025-10-01' ? 'O' : datum.value == '2025-11-03' ? 'N' : slice(datum.value, 8)", "labelColor": "#555", "labelAngle": 0, "ticks": false, "domainColor": "#444", "domainWidth": 1.5, "labelPadding": 1.5, "title": "Daily", "titleFontSize": 4.2, "titleFontWeight": "normal", "titleColor": "#555", "titleX": 480, "titleY": 2, "titleBaseline": "top", "titleAlign": "center"}}, "y": {"field": "v", "type": "quantitative", "scale": {"domain": [-10, 48.75], "nice": false, "zero": false}, "axis": {"orient": "right", "values": [0, 5, 10, 15, 20, 25, 30, 35, 40], "title": null, "labelOverlap": false}}, "text": {"field": "t"}}},
            {"data": {"values": [{"d": "2025-09-24", "v": 46.9, "t": "ADX"}]}, "mark": {"type": "text", "fontSize": 3.4, "color": "#444444", "dx": 38, "align": "left", "baseline": "middle"}, "encoding": {"x": {"field": "d", "type": "ordinal", "scale": {"type": "band", "domain": ["2025-09-24","2025-09-25","2025-09-26","2025-09-29","2025-09-30","2025-10-01","2025-10-03","2025-10-06","2025-10-07","2025-10-08","2025-10-09","2025-10-10","2025-10-13","2025-10-14","2025-10-15","2025-10-16","2025-10-17","2025-10-20","2025-10-21","2025-10-23","2025-10-24","2025-10-27","2025-10-28","2025-10-29","2025-10-30","2025-10-31","2025-11-03","2025-11-04"], "paddingInner": 0.4, "paddingOuter": 0.68}, "axis": {"orient": "bottom", "labelExpr": "datum.value == '2025-09-24' || datum.value == '2025-11-04' ? '' : datum.value == '2025-10-01' ? 'O' : datum.value == '2025-11-03' ? 'N' : slice(datum.value, 8)", "labelColor": "#555", "labelAngle": 0, "ticks": false, "domainColor": "#444", "domainWidth": 1.5, "labelPadding": 1.5, "title": "Daily", "titleFontSize": 4.2, "titleFontWeight": "normal", "titleColor": "#555", "titleX": 480, "titleY": 2, "titleBaseline": "top", "titleAlign": "center"}}, "y": {"field": "v", "type": "quantitative", "scale": {"domain": [-10, 48.75], "nice": false, "zero": false}, "axis": {"orient": "right", "values": [0, 5, 10, 15, 20, 25, 30, 35, 40], "title": null, "labelOverlap": false}}, "text": {"field": "t"}}},
            {"data": {"values": [{"d": "2025-10-31", "v": 42.5, "t": "ADX At 40"}]}, "mark": {"type": "text", "font": "Open Sans", "fontSize": 10, "color": "#333333", "dx": -2, "align": "left", "baseline": "middle"}, "encoding": {"x": {"field": "d", "type": "ordinal", "scale": {"type": "band", "domain": ["2025-09-24","2025-09-25","2025-09-26","2025-09-29","2025-09-30","2025-10-01","2025-10-03","2025-10-06","2025-10-07","2025-10-08","2025-10-09","2025-10-10","2025-10-13","2025-10-14","2025-10-15","2025-10-16","2025-10-17","2025-10-20","2025-10-21","2025-10-23","2025-10-24","2025-10-27","2025-10-28","2025-10-29","2025-10-30","2025-10-31","2025-11-03","2025-11-04"], "paddingInner": 0.4, "paddingOuter": 0.68}, "axis": {"orient": "bottom", "labelExpr": "datum.value == '2025-09-24' || datum.value == '2025-11-04' ? '' : datum.value == '2025-10-01' ? 'O' : datum.value == '2025-11-03' ? 'N' : slice(datum.value, 8)", "labelColor": "#555", "labelAngle": 0, "ticks": false, "domainColor": "#444", "domainWidth": 1.5, "labelPadding": 1.5, "title": "Daily", "titleFontSize": 4.2, "titleFontWeight": "normal", "titleColor": "#555", "titleX": 480, "titleY": 2, "titleBaseline": "top", "titleAlign": "center"}}, "y": {"field": "v", "type": "quantitative", "scale": {"domain": [-10, 48.75], "nice": false, "zero": false}, "axis": {"orient": "right", "values": [0, 5, 10, 15, 20, 25, 30, 35, 40], "title": null, "labelOverlap": false}}, "text": {"field": "t"}}},
            {"data": {"values": [{"d": "2025-10-30", "v": 38.75}]}, "mark": {"type": "point", "shape": "M -1 0 A 1 0.7 0 1 1 1 0 A 1 0.7 0 1 1 -1 0 Z", "size": 400, "filled": false, "color": "#111111", "strokeWidth": 1.3, "opacity": 1}, "encoding": {"x": {"field": "d", "type": "ordinal", "scale": {"type": "band", "domain": ["2025-09-24","2025-09-25","2025-09-26","2025-09-29","2025-09-30","2025-10-01","2025-10-03","2025-10-06","2025-10-07","2025-10-08","2025-10-09","2025-10-10","2025-10-13","2025-10-14","2025-10-15","2025-10-16","2025-10-17","2025-10-20","2025-10-21","2025-10-23","2025-10-24","2025-10-27","2025-10-28","2025-10-29","2025-10-30","2025-10-31","2025-11-03","2025-11-04"], "paddingInner": 0.4, "paddingOuter": 0.68}, "axis": {"orient": "bottom", "labelExpr": "datum.value == '2025-09-24' || datum.value == '2025-11-04' ? '' : datum.value == '2025-10-01' ? 'O' : datum.value == '2025-11-03' ? 'N' : slice(datum.value, 8)", "labelColor": "#555", "labelAngle": 0, "ticks": false, "domainColor": "#444", "domainWidth": 1.5, "labelPadding": 1.5, "title": "Daily", "titleFontSize": 4.2, "titleFontWeight": "normal", "titleColor": "#555", "titleX": 480, "titleY": 2, "titleBaseline": "top", "titleAlign": "center"}}, "y": {"field": "v", "type": "quantitative", "scale": {"domain": [-10, 48.75], "nice": false, "zero": false}, "axis": {"orient": "right", "values": [0, 5, 10, 15, 20, 25, 30, 35, 40], "title": null, "labelOverlap": false}}}}
          ]
        }
      ]
    }
  ]
}
